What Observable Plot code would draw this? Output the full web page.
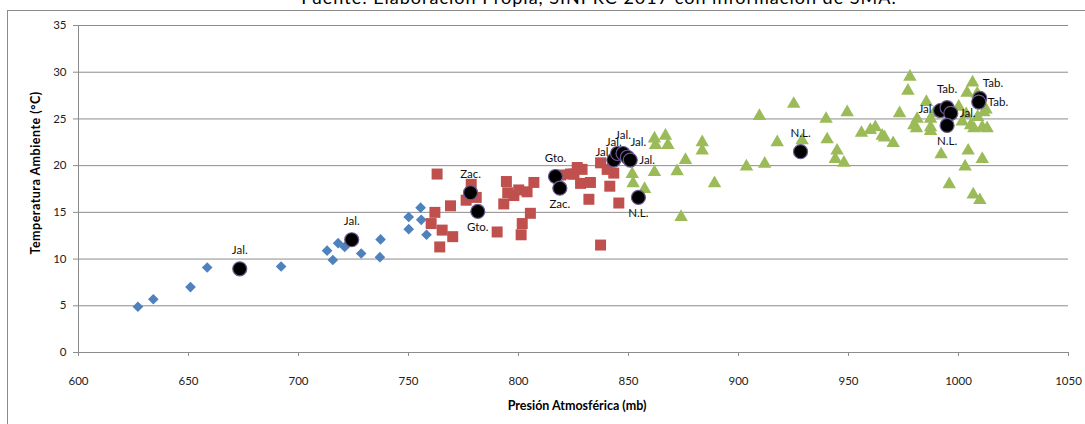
<!DOCTYPE html>
<html><head><meta charset="utf-8">
<script src="https://cdn.jsdelivr.net/npm/d3@7"></script>
<script src="https://cdn.jsdelivr.net/npm/@observablehq/plot@0.6"></script>
<style>
body{margin:0;background:#fff;}
#wrap{position:relative;width:1085px;height:424px;overflow:hidden;font-family:Lato,"Open Sans",sans-serif;}
#title{position:absolute;left:0;width:1198px;top:-14px;text-align:center;font-size:18px;letter-spacing:1px;color:#000;white-space:nowrap;}
#frame{position:absolute;left:7px;top:10px;width:1100px;height:500px;border:1px solid #8c8c8c;box-sizing:border-box;}
#chart{position:absolute;left:0;top:0;}
#ylab{position:absolute;left:35px;top:173px;transform:translate(-50%,-50%) rotate(-90deg);font-weight:bold;font-size:12.5px;letter-spacing:0.5px;white-space:nowrap;color:#000;}
#xlab{position:absolute;left:577px;top:405px;transform:translate(-50%,-50%);font-weight:bold;font-size:12.5px;white-space:nowrap;color:#000;}
</style></head>
<body>
<div id="wrap">
  <div id="frame"></div>
  <div id="title">Fuente: Elaboración Propia, SINPRC 2017 con información de SMA.</div>
  <div id="chart"></div>
  <div id="ylab">Temperatura Ambiente (°C)</div>
  <div id="xlab">Presión Atmosférica (mb)</div>
</div>
<script>
const xTicks = [600, 650, 700, 750, 800, 850, 900, 950, 1000, 1050];
const yTicks = [0, 5, 10, 15, 20, 25, 30, 35];

// Blue diamonds
const bluePres = [627.0, 634.0, 650.9, 658.5, 692.1, 713.0, 715.6, 718.0, 721.0, 728.5, 737.3, 737.0, 750.1, 750.1, 755.5, 755.8, 758.2];
const blueTemp = [4.9, 5.7, 7.0, 9.1, 9.2, 10.9, 9.9, 11.7, 11.3, 10.6, 12.1, 10.2, 14.5, 13.2, 15.5, 14.2, 12.6];

// Red squares
const redPres = [763.0, 778.5, 762.0, 769.1, 760.3, 765.3, 770.1, 764.2, 776.2, 780.8, 794.5, 795.1, 797.9, 800.1, 803.9, 807.0, 793.3, 805.4, 801.7, 801.2, 790.3, 837.3, 819.1, 823.6, 826.7, 828.9, 828.2, 832.7, 832.0, 837.3, 840.3, 843.3, 841.5, 845.6, 825.2];
const redTemp = [19.1, 18.0, 15.0, 15.7, 13.8, 13.1, 12.4, 11.3, 16.3, 16.6, 18.3, 17.1, 16.8, 17.4, 17.2, 18.2, 15.9, 14.9, 13.8, 12.6, 12.9, 11.5, 19.0, 19.1, 19.8, 19.6, 18.1, 18.2, 16.4, 20.3, 19.6, 19.2, 17.8, 16.0, 19.1];

// Green triangles
const greenPres = [977.9, 977.0, 1006.4, 1003.9, 925.1, 909.5, 949.4, 939.8, 973.2, 985.4, 981.2, 979.7, 980.9, 987.3, 987.3, 987.3, 988.8, 1000.1, 1001.7, 1005.5, 1007.0, 1010.8, 1011.5, 1008.5, 1008.7, 955.9, 959.9, 962.2, 965.3, 966.4, 970.3, 940.3, 928.9, 917.6, 944.8, 944.0, 947.9, 903.6, 911.9, 889.1, 883.5, 883.5, 992.1, 1004.4, 1003.0, 1010.8, 995.8, 1006.7, 1009.7, 861.8, 866.8, 862.3, 867.9, 875.9, 872.1, 861.8, 851.7, 852.1, 857.3, 873.9, 1013.0, 1003.5, 1012.5];
const greenTemp = [29.5, 28.0, 28.9, 27.8, 26.6, 25.3, 25.7, 25.0, 25.6, 26.8, 25.0, 24.3, 24.0, 25.0, 24.1, 23.7, 25.6, 26.3, 24.7, 24.3, 24.0, 24.1, 25.7, 27.7, 25.2, 23.5, 23.8, 24.1, 23.2, 23.0, 22.4, 22.8, 22.7, 22.5, 21.6, 20.7, 20.3, 19.9, 20.2, 18.1, 22.5, 21.6, 21.2, 21.6, 19.9, 20.7, 18.0, 16.9, 16.3, 22.9, 23.2, 22.2, 22.2, 20.6, 19.4, 19.3, 19.1, 18.1, 17.5, 14.5, 24.0, 25.5, 26.0];

// Labelled black circles
const circPres = [673.3, 724.2, 778.2, 781.5, 816.8, 818.8, 843.3, 845.0, 847.5, 849.5, 850.8, 854.5, 928.2, 991.8, 994.8, 996.5, 994.8, 1009.7, 1009.2];
const circTemp = [8.96, 12.07, 17.1, 15.1, 18.84, 17.59, 20.6, 21.3, 21.3, 20.9, 20.6, 16.6, 21.5, 25.9, 26.2, 25.6, 24.3, 27.2, 26.8];
const circLabel = ["Jal.", "Jal.", "Zac.", "Gto.", "Gto.", "Zac.", "Jal.", "Jal", "Jal.", "Jal.", "Jal.", "N.L.", "N.L.", "Jal", "Tab.", "Jal.", "N.L.", "Tab.", "Tab."];
const circPos = ["top", "top", "top", "bottom", "top", "bottom", "top", "left", "top", "topright", "right", "bottom", "top", "left", "top", "right", "bottom", "topright", "right"];

const blue = bluePres.map((p, i) => ({p, t: blueTemp[i]}));
const red = redPres.map((p, i) => ({p, t: redTemp[i]}));
const green = greenPres.map((p, i) => ({p, t: greenTemp[i]}));
const circ = circPres.map((p, i) => ({p, t: circTemp[i], label: circLabel[i], pos: circPos[i]}));

const posStyle = {
  top: {dx: 0, dy: -18, textAnchor: "middle"},
  bottom: {dx: 0, dy: 16, textAnchor: "middle"},
  left: {dx: -9, dy: -1, textAnchor: "end"},
  right: {dx: 9, dy: 0, textAnchor: "start"},
  topright: {dx: 3, dy: -15, textAnchor: "start"}
};
const labelMarks = Object.keys(posStyle).map(k =>
  Plot.text(circ.filter(d => d.pos === k), {x: "p", y: "t", text: "label", fill: "#111", fontSize: 11.5, ...posStyle[k]})
);

const chart = Plot.plot({
  width: 1085, height: 424,
  marginLeft: 78, marginRight: 17, marginTop: 25, marginBottom: 72,
  x: {domain: [600, 1050]},
  y: {domain: [0, 35]},
  style: {fontFamily: "Lato, 'Open Sans', sans-serif", fontSize: "11.5px", color: "#222", background: "transparent"},
  marks: [
    Plot.ruleY(yTicks, {stroke: "#8c8c8c", strokeWidth: 1}),
    Plot.ruleX([600], {stroke: "#8c8c8c", strokeWidth: 1}),
    Plot.axisX({ticks: xTicks, tickSize: 4, tickPadding: 20, label: null, tickFormat: d => String(d), stroke: "#8c8c8c", fill: "#222"}),
    Plot.axisY({ticks: yTicks, tickSize: 5, tickPadding: 7, label: null, tickFormat: d => String(d), stroke: "#8c8c8c", fill: "#222"}),
    Plot.dot(blue, {x: "p", y: "t", symbol: "diamond2", r: 4.8, fill: "#4F81BD", stroke: "none"}),
    Plot.dot(red, {x: "p", y: "t", symbol: "square", r: 6.2, fill: "#C0504D", stroke: "none"}),
    Plot.dot(green, {x: "p", y: "t", symbol: "triangle", r: 5, fill: "#9BBB59", stroke: "none"}),
    Plot.dot(circ, {x: "p", y: "t", r: 7, fill: "#000", stroke: "#6b5a8e", strokeWidth: 1.2}),
    ...labelMarks
  ]
});
document.getElementById("chart").appendChild(chart);
</script>
</body></html>
